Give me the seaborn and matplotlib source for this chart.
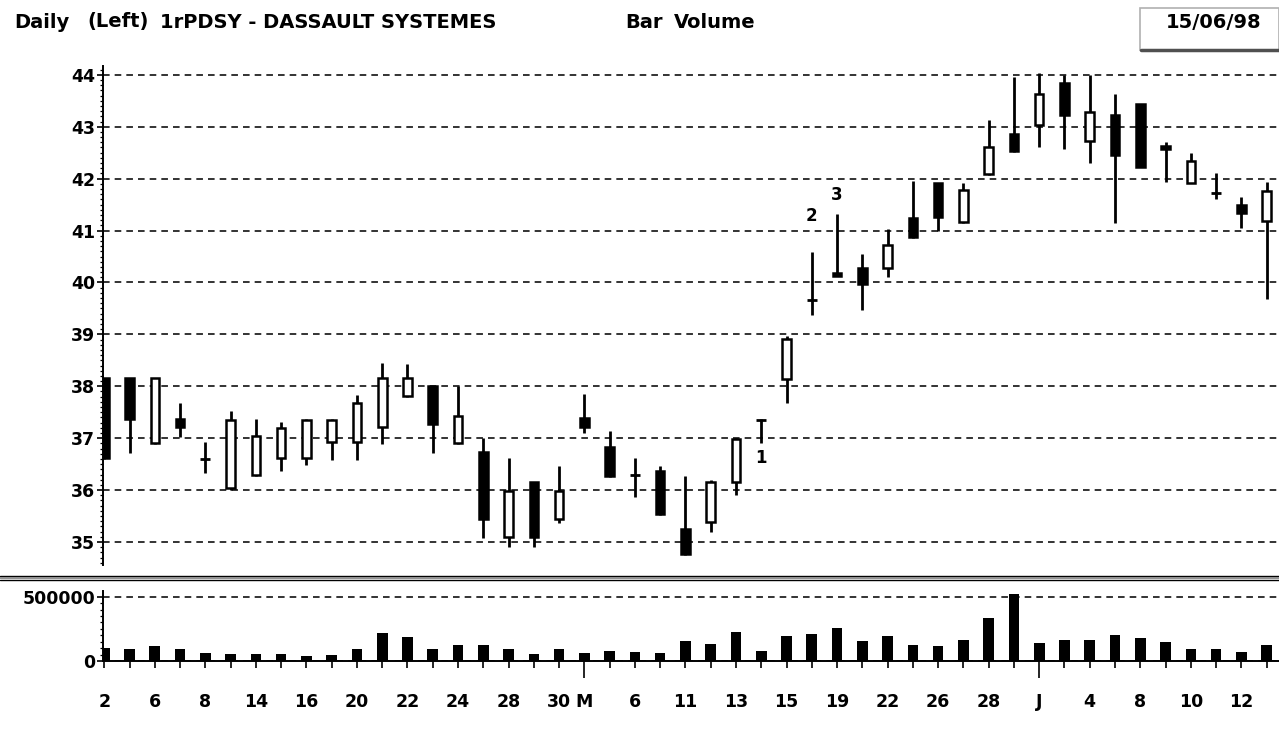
import numpy as np
import matplotlib.pyplot as plt
import seaborn as sns
from matplotlib.lines import Line2D
from matplotlib.patches import Rectangle
from matplotlib.ticker import MultipleLocator

# daily bars, 2 April .. 15 June 1998
opens = [38.15, 38.15, 36.90, 37.37, 36.60, 36.04, 36.30, 36.62, 36.62, 36.93,
         36.93, 37.22, 37.82, 38.00, 36.90, 36.73, 35.10, 36.16, 35.44, 37.39,
         36.83, 36.30, 36.37, 35.25, 35.39, 36.16, 37.35, 38.14, 39.66, 40.18,
         40.28, 40.28, 41.25, 41.92, 41.17, 42.09, 42.86, 43.04, 43.85, 42.73,
         43.23, 43.44, 42.63, 41.92, 41.73, 41.49, 41.19]
highs = [38.15, 38.15, 38.15, 37.68, 36.93, 37.53, 37.37, 37.31, 37.37, 37.37,
         37.83, 38.45, 38.43, 38.00, 38.00, 37.00, 36.62, 36.16, 36.47, 37.85,
         37.14, 36.62, 36.47, 36.27, 36.20, 37.00, 37.37, 38.97, 40.59, 41.32,
         40.55, 41.03, 41.96, 41.92, 41.92, 43.13, 43.96, 44.04, 44.00, 44.00,
         43.63, 43.44, 42.71, 42.50, 42.11, 41.65, 41.94]
lows = [36.60, 36.72, 36.88, 37.03, 36.33, 36.00, 36.28, 36.37, 36.49, 36.58,
        36.58, 36.89, 37.80, 36.72, 36.88, 35.08, 34.90, 34.90, 35.37, 37.10,
        36.25, 35.87, 35.52, 34.75, 35.20, 35.90, 36.90, 37.68, 39.38, 40.12,
        39.47, 40.11, 40.86, 41.00, 41.15, 42.07, 42.52, 42.61, 42.57, 42.30,
        41.15, 42.23, 41.94, 41.92, 41.61, 41.05, 39.68]
closes = [36.62, 37.37, 38.15, 37.22, 36.60, 37.35, 37.04, 37.20, 37.35, 37.35,
          37.68, 38.15, 38.15, 37.28, 37.43, 35.44, 35.98, 35.10, 35.98, 37.22,
          36.27, 36.30, 35.54, 34.77, 36.16, 36.99, 37.35, 38.91, 39.66, 40.13,
          39.97, 40.72, 40.88, 41.27, 41.78, 42.61, 42.54, 43.63, 43.23, 43.29,
          42.46, 42.23, 42.57, 42.34, 41.73, 41.34, 41.76]
volume = [105000, 90000, 114000, 97000, 62000, 53000, 53000, 53000, 37000, 46000,
          90000, 219000, 184000, 90000, 123000, 123000, 97000, 53000, 90000, 62000,
          81000, 72000, 62000, 156000, 132000, 228000, 81000, 193000, 211000, 255000,
          156000, 193000, 123000, 114000, 167000, 333000, 525000, 142000, 167000, 167000,
          202000, 176000, 149000, 90000, 90000, 72000, 123000]

date_labels = {0: "2", 2: "6", 4: "8", 6: "14", 8: "16", 10: "20", 12: "22",
               14: "24", 16: "28", 18: "30", 19: "M", 21: "6", 23: "11", 25: "13",
               27: "15", 29: "19", 31: "22", 33: "26", 35: "28", 37: "J", 39: "4",
               41: "8", 43: "10", 45: "12"}
month_starts = [19, 37]
notes = [(26, 36.62, "1"), (28, 41.28, "2"), (29, 41.69, "3")]

sns.set_style("ticks")
plt.rcParams['font.family'] = ['DejaVu Sans']
plt.rcParams['text.color'] = 'black'

W, H = 1279, 732
fig = plt.figure(figsize=(W / 100, H / 100), dpi=100)
fig.patch.set_facecolor("white")

x0 = 102.5 / W
axp = fig.add_axes([x0, 1 - 565 / H, 1 - x0, (565 - 66) / H])
axv = fig.add_axes([x0, 1 - 661 / H, 1 - x0, (661 - 591) / H])

idx = np.arange(len(opens))
o, h, l, c = map(np.array, (opens, highs, lows, closes))

# candles
axp.vlines(idx, l, h, color="black", lw=2.0, zorder=2)
doji = np.abs(c - o) < 0.03
body = ~doji
up = body & (c > o)
dn = body & (c < o)
axp.bar(idx[up], (c - o)[up], bottom=o[up], width=0.34, facecolor="white",
        edgecolor="black", lw=1.8, zorder=3)
axp.bar(idx[dn], (o - c)[dn], bottom=c[dn], width=0.34, facecolor="black",
        edgecolor="black", lw=1.8, zorder=3)
axp.hlines(c[doji], idx[doji] - 0.2, idx[doji] + 0.2, color="black", lw=2.0, zorder=3)

for xi, yi, s in notes:
    axp.text(xi, yi, s, ha="center", va="center", fontsize=12, fontweight="bold")

axp.set_xlim(-0.07, 46.49)
axp.set_ylim(34.557, 44.17)
axp.set_yticks(range(35, 45))
axp.yaxis.set_minor_locator(MultipleLocator(0.1))
axp.set_xticks([])
dash = (0, (3.4, 2.6))
axp.grid(axis="y", which="major", color="#333333", lw=1.4, linestyle=dash)
axp.set_axisbelow(True)
for side in ["top", "right", "bottom"]:
    axp.spines[side].set_visible(False)
axp.spines["left"].set_color("black")
axp.spines["left"].set_linewidth(1.4)
axp.tick_params(axis="y", which="major", length=4.3, width=1.2, pad=1,
                labelsize=12.5, colors="black")
axp.tick_params(axis="y", which="minor", length=2.5, width=0.9, colors="black")
for t in axp.get_yticklabels():
    t.set_fontweight("bold")

# volume
sns.barplot(x=idx, y=volume, native_scale=True, color="black", width=0.42,
            saturation=1, linewidth=0, errorbar=None, ax=axv)
axv.set_xlim(-0.07, 46.49)
axv.set_ylim(0, 545000)
axv.set_yticks([0, 500000])
axv.set_yticklabels(["0", "500000"])
axv.yaxis.set_minor_locator(MultipleLocator(50000))
axv.grid(axis="y", which="major", color="#333333", lw=1.4, linestyle=dash)
axv.set_axisbelow(True)
axv.set_xticks(idx)
axv.set_xticklabels([date_labels.get(i, "") for i in idx])
axv.set_xlabel("")
axv.set_ylabel("")
for side in ["top", "right"]:
    axv.spines[side].set_visible(False)
for side in ["left", "bottom"]:
    axv.spines[side].set_color("black")
    axv.spines[side].set_linewidth(1.4)
axv.tick_params(axis="y", which="major", length=4.3, width=1.2, pad=1,
                labelsize=12.5, colors="black")
axv.tick_params(axis="y", which="minor", length=2.5, width=0.9, colors="black")
axv.tick_params(axis="x", length=5, width=1.2, pad=18, labelsize=12.5, colors="black")
for i, tk in enumerate(axv.xaxis.get_major_ticks()):
    if i in month_starts:
        tk.tick1line.set_markersize(12)
for t in axv.get_xticklabels() + axv.get_yticklabels():
    t.set_fontweight("bold")

# panel separator
for yy, col, lw in [(575.5, "black", 1.0), (577.5, "#909090", 1.4), (579.5, "black", 1.0)]:
    fig.add_artist(Line2D([0, 1], [1 - yy / H, 1 - yy / H], transform=fig.transFigure,
                          color=col, lw=lw))

# header
ty = 1 - 22 / H
hdr = dict(fontsize=14, fontweight="bold", va="center", color="black")
fig.text(14 / W, ty, "Daily", **hdr)
fig.text(87 / W, ty, "(Left)", **hdr)
fig.text(160 / W, ty, "1rPDSY - DASSAULT SYSTEMES", **hdr)
fig.text(625 / W, ty, "Bar", **hdr)
fig.text(674 / W, ty, "Volume", **hdr)

fig.add_artist(Rectangle((1140 / W, 1 - 50 / H), 139 / W, 42 / H, transform=fig.transFigure,
                         facecolor="white", edgecolor="#b0b0b0", lw=1.2))
fig.add_artist(Line2D([1141 / W, 1], [1 - 50 / H, 1 - 50 / H], transform=fig.transFigure,
                      color="#505050", lw=2.5))
fig.text(1214 / W, ty, "15/06/98", ha="center", **hdr)

fig.savefig("out.png", dpi=100)
